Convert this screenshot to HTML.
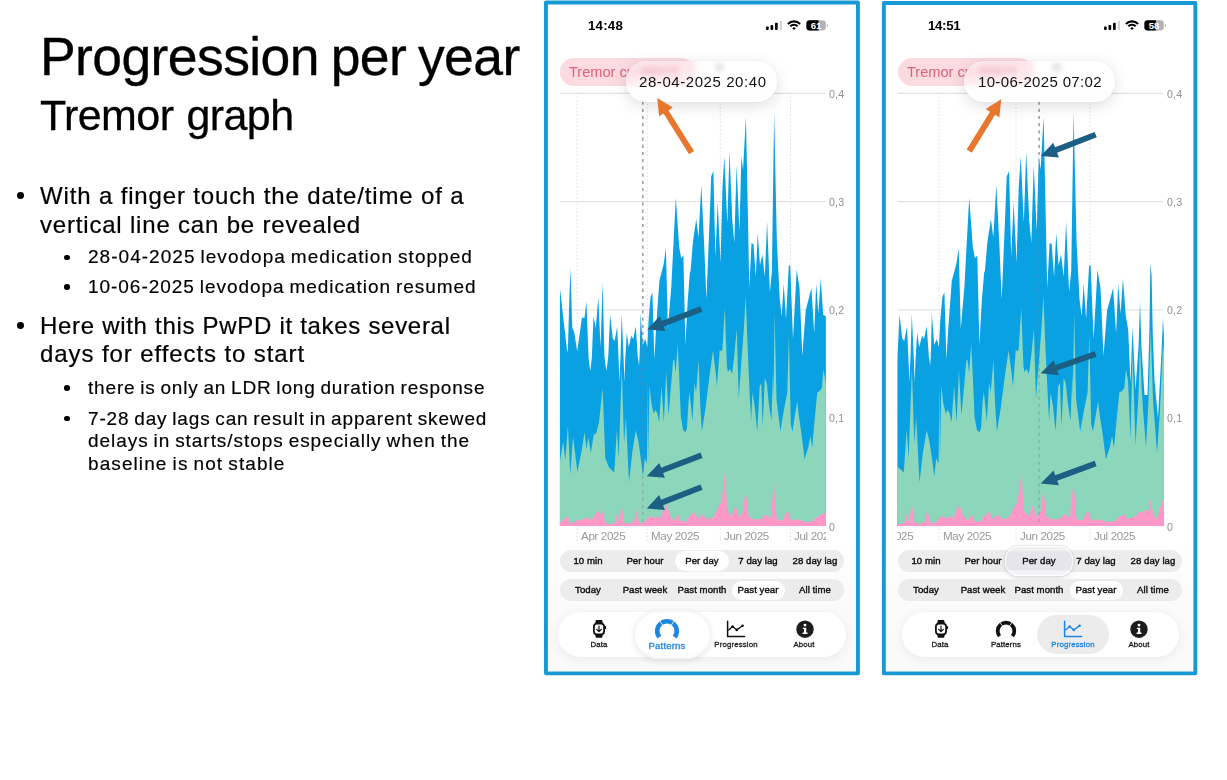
<!DOCTYPE html>
<html lang="en"><head><meta charset="utf-8"><title>Progression per year - Tremor graph</title>
<style>
html,body{margin:0;padding:0;background:#fff;overflow:hidden}
body{width:1227px;height:780px;position:relative;overflow:hidden;font-family:"Liberation Sans", sans-serif}
.t{position:absolute;white-space:nowrap;line-height:1;font-family:"Liberation Sans", sans-serif;will-change:transform}
</style></head><body>
<!-- slide text -->
<div class="t" style="left:40.00px;top:30.11px;font-size:53.5px;letter-spacing:-0.6px;font-weight:400;color:#000;word-spacing:-2.5px;-webkit-text-stroke:0.35px #000;">Progression per year</div>
<div class="t" style="left:40.40px;top:94.00px;font-size:43px;letter-spacing:-0.6px;font-weight:400;color:#000;word-spacing:1.8px;-webkit-text-stroke:0.3px #000;">Tremor graph</div>
<div style="position:absolute;left:17.00px;top:192.40px;width:6.8px;height:6.8px;border-radius:50%;background:#000"></div>
<div class="t" style="left:39.50px;top:183.98px;font-size:24px;letter-spacing:0.85px;font-weight:400;color:#000;-webkit-text-stroke:0.22px #000;">With a finger touch the date/time of a</div>
<div class="t" style="left:39.70px;top:212.78px;font-size:24px;letter-spacing:0.81px;font-weight:400;color:#000;-webkit-text-stroke:0.22px #000;">vertical line can be revealed</div>
<div style="position:absolute;left:64.30px;top:254.50px;width:5.6px;height:5.6px;border-radius:50%;background:#000"></div>
<div class="t" style="left:88.20px;top:247.42px;font-size:19px;letter-spacing:1.03px;font-weight:400;color:#000;word-spacing:-1.3px;-webkit-text-stroke:0.18px #000;">28-04-2025 levodopa medication stopped</div>
<div style="position:absolute;left:64.30px;top:284.40px;width:5.6px;height:5.6px;border-radius:50%;background:#000"></div>
<div class="t" style="left:88.20px;top:277.32px;font-size:19px;letter-spacing:0.96px;font-weight:400;color:#000;word-spacing:-1.3px;-webkit-text-stroke:0.18px #000;">10-06-2025 levodopa medication resumed</div>
<div style="position:absolute;left:17.00px;top:322.00px;width:6.8px;height:6.8px;border-radius:50%;background:#000"></div>
<div class="t" style="left:39.50px;top:313.58px;font-size:24px;letter-spacing:0.7px;font-weight:400;color:#000;-webkit-text-stroke:0.22px #000;">Here with this PwPD it takes several</div>
<div class="t" style="left:39.50px;top:342.38px;font-size:24px;letter-spacing:0.91px;font-weight:400;color:#000;-webkit-text-stroke:0.22px #000;">days for effects to start</div>
<div style="position:absolute;left:64.30px;top:385.20px;width:5.6px;height:5.6px;border-radius:50%;background:#000"></div>
<div class="t" style="left:88.20px;top:378.12px;font-size:19px;letter-spacing:0.83px;font-weight:400;color:#000;word-spacing:-1.3px;-webkit-text-stroke:0.18px #000;">there is only an LDR long duration response</div>
<div style="position:absolute;left:64.30px;top:415.70px;width:5.6px;height:5.6px;border-radius:50%;background:#000"></div>
<div class="t" style="left:88.20px;top:408.62px;font-size:19px;letter-spacing:0.85px;font-weight:400;color:#000;word-spacing:-1.3px;-webkit-text-stroke:0.18px #000;">7-28 day lags can result in apparent skewed</div>
<div class="t" style="left:88.20px;top:431.42px;font-size:19px;letter-spacing:0.95px;font-weight:400;color:#000;word-spacing:-1.3px;-webkit-text-stroke:0.18px #000;">delays in starts/stops especially when the</div>
<div class="t" style="left:88.20px;top:454.32px;font-size:19px;letter-spacing:1.09px;font-weight:400;color:#000;word-spacing:-1.3px;-webkit-text-stroke:0.18px #000;">baseline is not stable</div>
<svg style="position:absolute;left:0;top:0" width="1227" height="780" viewBox="0 0 1227 780"><rect x="545.95" y="2.55" width="312.00" height="670.80" fill="#fff" stroke="#179ad4" stroke-width="3.9" stroke-linejoin="round"/></svg>
<div style="position:absolute;left:548.2px;top:540px;width:307.6px;height:131.4px;background:linear-gradient(#fff,#fbfbfb 40%,#fafafa)"></div>
<div class="t" style="left:588.00px;top:19.04px;font-size:13.3px;letter-spacing:0.2px;font-weight:700;color:#000;">14:48</div>
<svg style="position:absolute;left:766.4px;top:18px" width="66" height="15" viewBox="0 0 66 15"><rect x="0.0" y="8.4" width="2.7" height="3.6" rx="0.9" fill="#000"/><rect x="4.5" y="6.9" width="2.7" height="5.1" rx="0.9" fill="#000"/><rect x="9.0" y="4.7" width="2.7" height="7.3" rx="0.9" fill="#000"/><rect x="13.8" y="2.7" width="2.1" height="9.3" rx="0.9" fill="#cfcfd2"/><g fill="none" stroke="#000" stroke-width="2.1" stroke-linecap="butt"><path d="M21.9,5.9 A8.6,8.6 0 0 1 34.1,5.9"/><path d="M24.3,8.3 A5.2,5.2 0 0 1 31.7,8.3"/></g><path d="M26.2,10.2 A2.5,2.5 0 0 1 29.8,10.2 L28,12 Z" fill="#000"/><rect x="40.4" y="2.2" width="19.4" height="10.4" rx="3.3" fill="#b3b3b5"/><path d="M43.7,2.2 H52.5 V12.6 H43.7 A3.3,3.3 0 0 1 40.4,9.3 V5.5 A3.3,3.3 0 0 1 43.7,2.2 Z" fill="#000"/><path d="M60.7,5.8 Q62.1,6.3 62.1,7.45 Q62.1,8.6 60.7,9.1 Z" fill="#bdbdbf"/><text x="50.0" y="11.0" font-family="Liberation Sans, sans-serif" font-weight="700" font-size="9.6" fill="#fff" text-anchor="middle">61</text></svg>
<div style="position:absolute;left:559.8px;top:58.2px;width:135px;height:27.5px;border-radius:14px;background:#fbdbe0"></div>
<div class="t" style="left:568.90px;top:65.14px;font-size:14.6px;letter-spacing:0px;font-weight:400;color:#e0607a;width:122px;overflow:hidden;">Tremor curves</div>
<div style="position:absolute;left:714.5px;top:62.6px;width:9.5px;height:9.5px;border-radius:50%;background:#9a9a9e;filter:blur(1px)"></div>
<svg style="position:absolute;left:0;top:0" width="1227" height="780" viewBox="0 0 1227 780"><line x1="559.9" y1="93.3" x2="824.9" y2="93.3" stroke="#dcdcdc" stroke-width="1"/><line x1="559.9" y1="201.6" x2="824.9" y2="201.6" stroke="#dcdcdc" stroke-width="1"/><line x1="559.9" y1="309.9" x2="824.9" y2="309.9" stroke="#dcdcdc" stroke-width="1"/><line x1="559.9" y1="418.1" x2="824.9" y2="418.1" stroke="#dcdcdc" stroke-width="1"/><line x1="577" y1="93" x2="577" y2="542" stroke="#d6d6d9" stroke-width="0.8" stroke-dasharray="1.4 2.2"/><line x1="647.3" y1="93" x2="647.3" y2="542" stroke="#d6d6d9" stroke-width="0.8" stroke-dasharray="1.4 2.2"/><line x1="720.3" y1="93" x2="720.3" y2="542" stroke="#d6d6d9" stroke-width="0.8" stroke-dasharray="1.4 2.2"/><line x1="790.5" y1="93" x2="790.5" y2="542" stroke="#d6d6d9" stroke-width="0.8" stroke-dasharray="1.4 2.2"/><path d="M559.9,526.0 L559.9,300.0 L559.9,300.0 L560.1,289.0 L562.7,312.7 L566.9,349.0 L567.8,352.4 L569.0,310.0 L570.4,267.8 L572.3,328.0 L574.2,332.0 L577.2,351.4 L581.9,317.8 L584.5,317.8 L586.4,301.2 L588.6,358.0 L590.3,371.0 L591.8,358.0 L593.5,316.5 L595.8,328.0 L598.3,296.7 L600.5,347.3 L602.7,282.6 L604.4,356.0 L606.4,371.0 L608.3,356.0 L610.1,314.6 L612.7,338.3 L614.6,340.9 L617.2,326.8 L618.5,357.0 L619.4,382.0 L620.5,357.0 L621.7,314.0 L623.6,358.0 L624.4,382.0 L625.3,358.0 L626.8,332.6 L628.7,347.3 L631.3,335.8 L633.2,339.0 L635.8,326.2 L637.7,356.0 L639.1,365.5 L639.8,350.0 L640.6,313.3 L642.8,344.7 L645.4,339.0 L647.3,347.3 L648.6,320.0 L650.5,297.3 L652.4,292.2 L654.4,359.8 L656.0,328.8 L659.4,280.8 L663.7,263.9 L665.9,248.3 L667.9,328.8 L671.3,286.4 L675.8,197.5 L679.2,246.9 L681.2,258.2 L683.4,255.4 L685.4,344.9 L687.7,300.6 L690.0,271.1 L690.5,272.3 L692.8,242.9 L696.2,218.9 L698.5,237.3 L701.3,185.0 L704.1,242.9 L706.4,299.3 L709.8,214.7 L711.2,176.6 L713.4,170.9 L715.4,257.0 L717.7,202.0 L720.5,262.7 L722.5,186.4 L724.4,156.8 L727.3,223.1 L729.5,151.2 L732.3,220.3 L734.3,242.9 L736.6,165.3 L739.4,231.6 L741.4,156.8 L743.1,169.5 L745.9,116.7 L747.9,214.7 L749.3,288.1 L751.5,242.9 L753.5,244.3 L755.8,276.8 L757.7,233.0 L760.0,265.5 L762.3,254.2 L764.8,276.8 L767.1,221.7 L769.9,292.3 L771.9,271.1 L774.1,112.5 L776.9,242.9 L779.8,299.3 L781.7,316.3 L783.7,283.8 L786.0,319.1 L788.8,265.5 L790.2,265.5 L793.0,338.9 L796.7,269.7 L799.5,288.1 L802.3,355.8 L805.7,310.6 L811.4,288.1 L814.2,333.2 L816.2,283.8 L818.4,313.5 L820.7,278.2 L823.2,314.9 L825.8,316.3 L825.9,316.3 L825.9,526.0 Z" fill="#0aa1e3"/><path d="M559.9,526.0 L559.9,461.8 L559.9,461.8 L563.1,442.1 L565.4,460.0 L567.9,425.9 L570.3,474.4 L573.0,436.7 L577.4,471.7 L581.9,449.2 L584.6,432.2 L586.4,449.2 L588.2,437.6 L590.9,452.8 L593.6,434.9 L596.3,433.1 L599.0,422.3 L602.6,388.0 L605.3,458.2 L608.9,467.2 L614.2,472.6 L616.9,429.5 L618.7,458.2 L621.8,368.1 L624.1,443.9 L625.9,416.9 L629.0,482.4 L632.2,452.8 L635.8,430.4 L638.5,442.1 L641.2,461.8 L643.0,476.2 L644.8,458.2 L646.9,463.6 L648.0,380.8 L648.2,462.7 L649.5,385.4 L651.5,403.8 L653.8,413.8 L655.4,410.0 L657.2,413.1 L659.2,422.3 L661.5,385.4 L663.8,422.3 L666.2,370.8 L668.5,415.4 L670.8,388.5 L673.1,360.8 L674.2,359.2 L675.7,373.1 L677.7,343.8 L679.2,376.2 L680.8,416.2 L683.1,430.0 L685.4,432.3 L686.9,428.5 L688.5,402.3 L689.5,391.5 L690.0,396.6 L692.5,421.1 L694.5,383.2 L696.1,392.5 L698.6,359.7 L700.2,404.8 L701.9,431.4 L705.4,408.9 L709.5,376.1 L713.0,350.5 L715.6,372.0 L717.0,386.3 L719.7,349.4 L721.1,351.5 L722.4,349.4 L724.8,307.4 L726.9,365.8 L727.9,372.0 L730.0,368.9 L732.0,374.0 L734.1,357.6 L736.7,328.9 L738.8,398.6 L741.2,363.8 L743.7,331.0 L745.7,295.7 L747.8,351.5 L749.4,388.4 L751.1,421.1 L752.5,392.5 L754.5,404.8 L757.2,431.4 L759.7,386.3 L761.3,383.2 L762.7,427.3 L764.8,378.1 L766.8,383.2 L768.9,404.8 L771.4,421.1 L773.0,372.0 L773.5,396.9 L774.6,311.5 L776.5,399.2 L780.4,431.5 L783.8,410.8 L787.3,392.3 L788.9,334.6 L790.8,424.6 L792.4,431.5 L794.9,415.4 L797.2,401.5 L798.8,415.4 L801.2,431.5 L804.6,459.2 L808.1,447.7 L810.4,436.2 L812.2,447.7 L815.0,415.4 L817.3,392.3 L819.6,391.2 L821.9,387.7 L823.5,369.2 L825.4,380.8 L825.9,383.1 L825.9,383.1 L825.9,526.0 Z" fill="#8cd6bc"/><path d="M559.9,526.0 L559.9,522.8 L559.9,522.8 L563.1,520.1 L567.6,515.7 L570.3,523.7 L574.7,521.9 L578.3,520.1 L583.7,519.2 L588.2,517.4 L590.9,520.1 L593.6,517.4 L598.1,510.3 L600.8,513.9 L602.6,512.1 L605.3,522.8 L608.9,524.3 L614.2,523.7 L616.9,513.9 L618.7,522.8 L621.8,504.0 L624.1,522.8 L630.4,523.7 L634.0,521.0 L636.1,510.3 L639.4,522.8 L643.0,523.7 L646.5,519.2 L650.1,515.7 L653.7,518.3 L657.3,516.5 L660.9,518.3 L662.7,512.1 L666.6,504.9 L669.9,515.7 L674.4,521.0 L678.0,513.9 L680.7,521.0 L686.0,521.9 L688.7,517.4 L690.0,516.2 L694.6,511.5 L697.7,519.2 L702.3,514.6 L706.9,519.2 L713.1,517.7 L719.2,505.4 L721.4,502.3 L724.8,473.1 L727.5,511.5 L731.5,516.2 L735.5,505.4 L739.2,517.7 L742.9,511.5 L745.7,490.0 L748.5,516.2 L753.1,519.2 L760.8,519.2 L765.4,514.6 L770.6,517.7 L774.0,482.3 L776.8,519.2 L782.3,520.8 L787.5,510.0 L790.9,520.8 L797.7,519.2 L806.9,522.3 L813.1,520.8 L817.7,516.2 L822.3,514.6 L825.9,511.5 L825.9,511.5 L825.9,526.0 Z" fill="#fd97c7"/><line x1="642.8" y1="101.5" x2="642.8" y2="344.0" stroke="#7d7d82" stroke-width="1.35" stroke-dasharray="3.2 4" opacity="0.85"/><line x1="642.8" y1="344.0" x2="642.8" y2="526" stroke="#80808a" stroke-width="1.25" stroke-dasharray="3.2 4" stroke-dashoffset="4.90" opacity="0.5"/></svg>
<div class="t" style="left:829.20px;top:88.63px;font-size:10.6px;letter-spacing:0.15px;font-weight:400;color:#909095;">0,4</div>
<div class="t" style="left:829.20px;top:196.93px;font-size:10.6px;letter-spacing:0.15px;font-weight:400;color:#909095;">0,3</div>
<div class="t" style="left:829.20px;top:305.23px;font-size:10.6px;letter-spacing:0.15px;font-weight:400;color:#909095;">0,2</div>
<div class="t" style="left:829.20px;top:413.43px;font-size:10.6px;letter-spacing:0.15px;font-weight:400;color:#909095;">0,1</div>
<div class="t" style="left:829.20px;top:521.63px;font-size:10.6px;letter-spacing:0.15px;font-weight:400;color:#909095;">0</div>
<div style="position:absolute;left:559.9px;top:528px;width:266.0px;height:16px;overflow:hidden">
<div class="t" style="left:20.9px;top:2.48px;font-size:11.6px;color:#98989c;letter-spacing:-0.35px">Apr 2025</div>
<div class="t" style="left:91.0px;top:2.48px;font-size:11.6px;color:#98989c;letter-spacing:-0.35px">May 2025</div>
<div class="t" style="left:164.0px;top:2.48px;font-size:11.6px;color:#98989c;letter-spacing:-0.35px">Jun 2025</div>
<div class="t" style="left:234.3px;top:2.48px;font-size:11.6px;color:#98989c;letter-spacing:-0.35px">Jul 2025</div>
</div>
<div style="position:absolute;left:559.8px;top:549.8px;width:284px;height:22.5px;border-radius:11.5px;background:#ececed"></div>
<div style="position:absolute;left:675.0px;top:551.4px;width:53.5px;height:19.3px;border-radius:10px;background:#fff"></div>
<div class="t" style="left:538.00px;width:100px;text-align:center;top:555.97px;font-size:9.6px;letter-spacing:0.05px;font-weight:400;color:#111;-webkit-text-stroke:0.4px #111;">10 min</div>
<div class="t" style="left:594.80px;width:100px;text-align:center;top:555.97px;font-size:9.6px;letter-spacing:0.05px;font-weight:400;color:#111;-webkit-text-stroke:0.4px #111;">Per hour</div>
<div class="t" style="left:651.60px;width:100px;text-align:center;top:555.97px;font-size:9.6px;letter-spacing:0.05px;font-weight:400;color:#111;-webkit-text-stroke:0.4px #111;">Per day</div>
<div class="t" style="left:708.40px;width:100px;text-align:center;top:555.97px;font-size:9.6px;letter-spacing:0.05px;font-weight:400;color:#111;-webkit-text-stroke:0.4px #111;">7 day lag</div>
<div class="t" style="left:765.20px;width:100px;text-align:center;top:555.97px;font-size:9.6px;letter-spacing:0.05px;font-weight:400;color:#111;-webkit-text-stroke:0.4px #111;">28 day lag</div>
<div style="position:absolute;left:559.8px;top:578.9px;width:284px;height:22.5px;border-radius:11.5px;background:#ececed"></div>
<div style="position:absolute;left:731.8px;top:580.5px;width:53.5px;height:19.3px;border-radius:10px;background:#fff"></div>
<div class="t" style="left:538.00px;width:100px;text-align:center;top:585.07px;font-size:9.6px;letter-spacing:0.05px;font-weight:400;color:#111;-webkit-text-stroke:0.4px #111;">Today</div>
<div class="t" style="left:594.80px;width:100px;text-align:center;top:585.07px;font-size:9.6px;letter-spacing:0.05px;font-weight:400;color:#111;-webkit-text-stroke:0.4px #111;">Past week</div>
<div class="t" style="left:651.60px;width:100px;text-align:center;top:585.07px;font-size:9.6px;letter-spacing:0.05px;font-weight:400;color:#111;-webkit-text-stroke:0.4px #111;">Past month</div>
<div class="t" style="left:708.40px;width:100px;text-align:center;top:585.07px;font-size:9.6px;letter-spacing:0.05px;font-weight:400;color:#111;-webkit-text-stroke:0.4px #111;">Past year</div>
<div class="t" style="left:765.20px;width:100px;text-align:center;top:585.07px;font-size:9.6px;letter-spacing:0.05px;font-weight:400;color:#111;-webkit-text-stroke:0.4px #111;">All time</div>
<div style="position:absolute;left:558.0px;top:612.2px;width:288.0px;height:45px;border-radius:22.5px;background:#fff;box-shadow:0 2px 12px rgba(0,0,0,.07),0 0 2px rgba(0,0,0,.03)"></div>
<div style="position:absolute;left:634px;top:609.5px;width:76.8px;height:49.2px;border-radius:24.6px;background:#fff;box-shadow:0 2px 6px rgba(0,0,0,.09),inset 0 2px 2.5px rgba(0,0,0,.05),inset 0 -2px 2.5px rgba(0,0,0,.045)"></div>
<svg style="position:absolute;left:588.9px;top:618px" width="20" height="22" viewBox="0 0 20 22"><path d="M6.1,5.4 L6.9,2.1 H13.1 L13.9,5.4 Z M6.1,16.5 L6.9,19.8 H13.1 L13.9,16.5 Z" fill="#111"/><rect x="4.9" y="5.6" width="10.2" height="10.7" rx="3.1" fill="#fff" stroke="#111" stroke-width="1.8"/><path d="M16.4,8.6 V10.6" stroke="#111" stroke-width="1.3" stroke-linecap="round"/><path d="M10,8.2 V13.5 M7.7,11.3 L10,13.7 L12.3,11.3" fill="none" stroke="#111" stroke-width="1.2" stroke-linecap="round" stroke-linejoin="round"/></svg>
<svg style="position:absolute;left:653.4px;top:617.5px" width="28" height="26" viewBox="0 0 28 26"><path d="M6.42,19.14 A9.75,9.75 0 1 1 21.58,19.14" fill="none" stroke="#1f86e0" stroke-width="4.6" stroke-linecap="butt"/><path d="M9.9,7.3 L6.6,2.8 M18.1,7.3 L21.4,2.8" stroke="#fff" stroke-width="0.9"/></svg>
<svg style="position:absolute;left:725.2px;top:619px" width="22" height="20" viewBox="0 0 22 20"><path d="M2.6,2.2 V17.4 H19.6" fill="none" stroke="#111" stroke-width="1.5" stroke-linecap="round" stroke-linejoin="round"/><path d="M3.4,11.3 L7.6,7.6 L11.8,10.9 L17.6,6.8" fill="none" stroke="#111" stroke-width="1.3" stroke-linejoin="round"/><circle cx="7.6" cy="7.6" r="1.3" fill="#111"/><circle cx="11.8" cy="10.9" r="1.3" fill="#111"/><circle cx="17.6" cy="6.8" r="1.3" fill="#111"/></svg>
<svg style="position:absolute;left:795.1px;top:619px" width="20" height="20" viewBox="0 0 20 20"><circle cx="10" cy="10.2" r="8.7" fill="#1c1c1e"/><circle cx="10" cy="6.1" r="1.45" fill="#fff"/><path d="M7.9,8.7 H11.2 V13.6 H12.5 V14.9 H7.6 V13.6 H9.0 V10.0 H7.9 Z" fill="#fff"/></svg>
<div class="t" style="left:548.50px;width:100px;text-align:center;top:641.10px;font-size:7.8px;letter-spacing:0.15px;font-weight:400;color:#1a1a1a;-webkit-text-stroke:0.3px #1a1a1a;">Data</div>
<div class="t" style="left:617.30px;width:100px;text-align:center;top:641.17px;font-size:9.6px;letter-spacing:0.15px;font-weight:400;color:#1f86e0;-webkit-text-stroke:0.3px #1f86e0;">Patterns</div>
<div class="t" style="left:686.20px;width:100px;text-align:center;top:641.10px;font-size:7.8px;letter-spacing:0.15px;font-weight:400;color:#1a1a1a;-webkit-text-stroke:0.3px #1a1a1a;">Progression</div>
<div class="t" style="left:754.40px;width:100px;text-align:center;top:641.10px;font-size:7.8px;letter-spacing:0.15px;font-weight:400;color:#1a1a1a;-webkit-text-stroke:0.3px #1a1a1a;">About</div>
<div style="position:absolute;left:625.8px;top:61.3px;width:151.4px;height:40.3px;border-radius:20.2px;background:rgba(255,255,255,.72);-webkit-backdrop-filter:blur(2.4px);backdrop-filter:blur(2.4px);box-shadow:0 4px 16px rgba(0,0,0,.13),0 0 3px rgba(0,0,0,.05);overflow:hidden"><div style="position:absolute;left:-4px;top:-3px;width:74px;height:28px;background:linear-gradient(rgba(250,200,209,.38),rgba(250,200,209,.16));filter:blur(2.5px)"></div><div style="position:absolute;left:15px;top:4.5px;width:38px;height:8px;background:rgba(236,140,158,.24);filter:blur(2.2px)"></div></div>
<div class="t" style="left:638.60px;top:74.20px;font-size:15px;letter-spacing:0.57px;font-weight:400;color:#111;">28-04-2025 20:40</div>
<svg style="position:absolute;left:0;top:0" width="1227" height="780" viewBox="0 0 1227 780"><polygon points="694.1,151.0 668.5,110.4 672.8,107.6 657.2,98.0 659.1,116.3 663.5,113.6 689.1,154.2" fill="#e8772e"/><polygon points="700.4,306.3 661.5,321.0 659.7,316.3 647.1,329.5 665.3,331.1 663.6,326.4 702.4,311.7" fill="#1b5f84"/><polygon points="700.5,452.5 661.1,467.7 659.3,463.0 646.7,476.3 664.9,477.7 663.1,473.1 702.5,457.9" fill="#1b5f84"/><polygon points="700.4,484.4 661.0,499.8 659.2,495.1 646.7,508.5 664.9,509.9 663.1,505.2 702.6,489.8" fill="#1b5f84"/></svg>
<svg style="position:absolute;left:0;top:0" width="1227" height="780" viewBox="0 0 1227 780"><rect x="883.85" y="2.95" width="311.50" height="670.40" fill="#fff" stroke="#179ad4" stroke-width="3.9" stroke-linejoin="round"/></svg>
<div style="position:absolute;left:885.9px;top:540px;width:307.6px;height:131.4px;background:linear-gradient(#fff,#fbfbfb 40%,#fafafa)"></div>
<div class="t" style="left:927.80px;top:19.04px;font-size:13.3px;letter-spacing:-0.35px;font-weight:700;color:#000;">14:51</div>
<svg style="position:absolute;left:1104.1px;top:18px" width="66" height="15" viewBox="0 0 66 15"><rect x="0.0" y="8.4" width="2.7" height="3.6" rx="0.9" fill="#000"/><rect x="4.5" y="6.9" width="2.7" height="5.1" rx="0.9" fill="#000"/><rect x="9.0" y="4.7" width="2.7" height="7.3" rx="0.9" fill="#000"/><rect x="13.8" y="2.7" width="2.1" height="9.3" rx="0.9" fill="#cfcfd2"/><g fill="none" stroke="#000" stroke-width="2.1" stroke-linecap="butt"><path d="M21.9,5.9 A8.6,8.6 0 0 1 34.1,5.9"/><path d="M24.3,8.3 A5.2,5.2 0 0 1 31.7,8.3"/></g><path d="M26.2,10.2 A2.5,2.5 0 0 1 29.8,10.2 L28,12 Z" fill="#000"/><rect x="40.4" y="2.2" width="19.4" height="10.4" rx="3.3" fill="#b3b3b5"/><path d="M43.7,2.2 H51.8 V12.6 H43.7 A3.3,3.3 0 0 1 40.4,9.3 V5.5 A3.3,3.3 0 0 1 43.7,2.2 Z" fill="#000"/><path d="M60.7,5.8 Q62.1,6.3 62.1,7.45 Q62.1,8.6 60.7,9.1 Z" fill="#bdbdbf"/><text x="50.0" y="11.0" font-family="Liberation Sans, sans-serif" font-weight="700" font-size="9.6" fill="#fff" text-anchor="middle">58</text></svg>
<div style="position:absolute;left:897.5px;top:58.2px;width:135px;height:27.5px;border-radius:14px;background:#fbdbe0"></div>
<div class="t" style="left:906.60px;top:65.14px;font-size:14.6px;letter-spacing:0px;font-weight:400;color:#e0607a;width:122px;overflow:hidden;">Tremor curves</div>
<div style="position:absolute;left:1052.2px;top:62.6px;width:9.5px;height:9.5px;border-radius:50%;background:#9a9a9e;filter:blur(1px)"></div>
<svg style="position:absolute;left:0;top:0" width="1227" height="780" viewBox="0 0 1227 780"><line x1="897.4" y1="93.3" x2="1162.9" y2="93.3" stroke="#dcdcdc" stroke-width="1"/><line x1="897.4" y1="201.6" x2="1162.9" y2="201.6" stroke="#dcdcdc" stroke-width="1"/><line x1="897.4" y1="309.9" x2="1162.9" y2="309.9" stroke="#dcdcdc" stroke-width="1"/><line x1="897.4" y1="418.1" x2="1162.9" y2="418.1" stroke="#dcdcdc" stroke-width="1"/><line x1="939" y1="93" x2="939" y2="542" stroke="#d6d6d9" stroke-width="0.8" stroke-dasharray="1.4 2.2"/><line x1="1016" y1="93" x2="1016" y2="542" stroke="#d6d6d9" stroke-width="0.8" stroke-dasharray="1.4 2.2"/><line x1="1090" y1="93" x2="1090" y2="542" stroke="#d6d6d9" stroke-width="0.8" stroke-dasharray="1.4 2.2"/><path d="M897.4,526.0 L897.4,371.0 L897.4,371.0 L897.5,356.0 L899.5,314.6 L902.2,338.3 L904.2,340.9 L907.0,326.8 L908.4,357.0 L909.3,382.0 L910.5,357.0 L911.8,314.0 L913.8,358.0 L914.6,382.0 L915.6,358.0 L917.2,332.6 L919.2,347.3 L922.0,335.8 L924.0,339.0 L926.7,326.2 L928.8,356.0 L930.2,365.5 L931.0,350.0 L931.8,313.3 L934.2,344.7 L936.9,339.0 L938.9,347.3 L940.3,320.0 L942.3,297.3 L944.4,292.2 L946.4,359.8 L948.2,328.8 L951.8,280.8 L956.3,263.9 L958.7,248.3 L960.8,328.8 L964.4,286.4 L969.2,197.5 L972.8,246.9 L974.9,258.2 L977.3,255.4 L979.4,344.9 L981.8,300.6 L984.3,271.1 L984.8,272.3 L987.3,242.9 L990.9,218.9 L993.3,237.3 L996.3,185.0 L999.3,242.9 L1001.7,299.3 L1005.2,214.7 L1006.7,176.6 L1009.1,170.9 L1011.2,257.0 L1013.6,202.0 L1016.6,262.7 L1018.7,186.4 L1020.8,156.8 L1023.8,223.1 L1026.2,151.2 L1029.2,220.3 L1031.3,242.9 L1033.7,165.3 L1036.7,231.6 L1038.8,156.8 L1040.6,169.5 L1043.6,116.7 L1045.7,214.7 L1047.2,288.1 L1049.6,242.9 L1051.7,244.3 L1054.1,276.8 L1056.2,233.0 L1058.6,265.5 L1061.0,254.2 L1063.7,276.8 L1066.1,221.7 L1069.1,292.3 L1071.2,271.1 L1073.6,112.5 L1076.6,242.9 L1079.5,299.3 L1081.6,316.3 L1083.7,283.8 L1086.1,319.1 L1089.1,265.5 L1090.6,265.5 L1093.6,338.9 L1097.5,269.7 L1100.5,288.1 L1103.5,355.8 L1107.1,310.6 L1113.1,288.1 L1116.1,333.2 L1118.2,283.8 L1120.6,313.5 L1123.0,278.2 L1125.7,314.9 L1128.2,330.0 L1130.5,383.0 L1132.5,326.8 L1135.5,390.0 L1138.6,345.0 L1140.0,301.2 L1141.4,345.0 L1144.5,395.0 L1147.5,395.0 L1149.4,330.0 L1150.4,263.3 L1151.6,275.0 L1152.8,335.0 L1154.5,380.0 L1158.0,418.0 L1161.6,350.0 L1163.0,317.8 L1163.9,335.0 L1163.9,335.0 L1163.9,526.0 Z" fill="#0aa1e3"/><path d="M897.4,526.0 L897.4,467.2 L898.1,467.2 L903.8,472.6 L906.7,429.5 L908.6,458.2 L911.9,368.1 L914.3,443.9 L916.2,416.9 L919.5,482.4 L922.9,452.8 L926.7,430.4 L929.6,442.1 L932.4,461.8 L934.3,476.2 L936.2,458.2 L938.5,463.6 L939.7,380.8 L939.9,462.7 L941.3,385.4 L943.4,403.8 L945.9,413.8 L947.5,410.0 L949.5,413.1 L951.6,422.3 L954.1,385.4 L956.5,422.3 L959.0,370.8 L961.4,415.4 L963.9,388.5 L966.3,360.8 L967.5,359.2 L969.1,373.1 L971.2,343.8 L972.8,376.2 L974.5,416.2 L976.9,430.0 L979.4,432.3 L981.0,428.5 L982.6,402.3 L983.8,391.5 L984.3,396.6 L986.9,421.1 L989.1,383.2 L990.8,392.5 L993.4,359.7 L995.1,404.8 L996.9,431.4 L1000.6,408.9 L1004.9,376.1 L1008.6,350.5 L1011.5,372.0 L1013.0,386.3 L1015.8,349.4 L1017.3,351.5 L1018.6,349.4 L1021.3,307.4 L1023.4,365.8 L1024.5,372.0 L1026.7,368.9 L1028.9,374.0 L1031.0,357.6 L1033.9,328.9 L1036.0,398.6 L1038.7,363.8 L1041.3,331.0 L1043.4,295.7 L1045.6,351.5 L1047.4,388.4 L1049.1,421.1 L1050.6,392.5 L1052.8,404.8 L1055.6,431.4 L1058.2,386.3 L1060.0,383.2 L1061.5,427.3 L1063.7,378.1 L1065.8,383.2 L1068.0,404.8 L1070.6,421.1 L1072.4,372.0 L1072.9,396.9 L1074.1,311.5 L1076.1,399.2 L1080.2,431.5 L1083.9,410.8 L1087.6,392.3 L1089.3,334.6 L1091.2,424.6 L1093.0,431.5 L1095.7,415.4 L1098.1,401.5 L1099.8,415.4 L1102.3,431.5 L1105.9,459.2 L1109.6,447.7 L1112.1,436.2 L1114.0,447.7 L1117.0,415.4 L1119.4,392.3 L1121.9,391.2 L1124.3,387.7 L1126.0,369.2 L1128.0,380.8 L1128.2,384.0 L1130.5,440.0 L1132.5,352.0 L1135.5,445.0 L1138.5,395.0 L1140.0,342.0 L1141.5,385.0 L1143.0,410.0 L1146.0,447.0 L1148.5,400.0 L1150.7,329.0 L1153.0,400.0 L1157.0,453.0 L1160.0,410.0 L1163.0,345.0 L1163.9,352.0 L1163.9,352.0 L1163.9,526.0 Z" fill="#8cd6bc"/><path d="M897.4,526.0 L897.4,524.3 L898.1,524.3 L903.8,523.7 L906.7,513.9 L908.6,522.8 L911.9,504.0 L914.3,522.8 L921.0,523.7 L924.8,521.0 L927.1,510.3 L930.5,522.8 L934.3,523.7 L938.1,519.2 L942.0,515.7 L945.8,518.3 L949.6,516.5 L953.4,518.3 L955.3,512.1 L959.5,504.9 L962.9,515.7 L967.7,521.0 L971.5,513.9 L974.3,521.0 L980.1,521.9 L982.9,517.4 L984.3,516.2 L989.2,511.5 L992.4,519.2 L997.3,514.6 L1002.2,519.2 L1008.8,517.7 L1015.3,505.4 L1017.6,502.3 L1021.2,473.1 L1024.1,511.5 L1028.4,516.2 L1032.6,505.4 L1036.5,517.7 L1040.5,511.5 L1043.4,490.0 L1046.3,516.2 L1051.2,519.2 L1059.4,519.2 L1064.3,514.6 L1069.8,517.7 L1073.4,482.3 L1076.4,519.2 L1082.3,520.8 L1087.8,510.0 L1091.4,520.8 L1098.6,519.2 L1108.4,522.3 L1114.9,520.8 L1119.8,516.2 L1124.7,514.6 L1127.8,519.2 L1131.5,517.7 L1136.2,516.2 L1139.2,511.5 L1142.3,513.1 L1145.4,510.0 L1148.5,511.5 L1150.6,499.2 L1153.1,514.6 L1156.2,519.2 L1159.2,511.5 L1162.3,500.8 L1163.9,499.2 L1163.9,499.2 L1163.9,526.0 Z" fill="#fd97c7"/><line x1="1039.1" y1="101.5" x2="1039.1" y2="158.0" stroke="#7d7d82" stroke-width="1.35" stroke-dasharray="3.2 4" opacity="0.85"/><line x1="1039.1" y1="158.0" x2="1039.1" y2="526" stroke="#80808a" stroke-width="1.25" stroke-dasharray="3.2 4" stroke-dashoffset="6.10" opacity="0.5"/></svg>
<div class="t" style="left:1166.90px;top:88.63px;font-size:10.6px;letter-spacing:0.15px;font-weight:400;color:#909095;">0,4</div>
<div class="t" style="left:1166.90px;top:196.93px;font-size:10.6px;letter-spacing:0.15px;font-weight:400;color:#909095;">0,3</div>
<div class="t" style="left:1166.90px;top:305.23px;font-size:10.6px;letter-spacing:0.15px;font-weight:400;color:#909095;">0,2</div>
<div class="t" style="left:1166.90px;top:413.43px;font-size:10.6px;letter-spacing:0.15px;font-weight:400;color:#909095;">0,1</div>
<div class="t" style="left:1166.90px;top:521.63px;font-size:10.6px;letter-spacing:0.15px;font-weight:400;color:#909095;">0</div>
<div style="position:absolute;left:897.4px;top:528px;width:266.5px;height:16px;overflow:hidden">
<div class="t" style="left:-28.8px;top:2.48px;font-size:11.6px;color:#98989c;letter-spacing:-0.35px">Apr 2025</div>
<div class="t" style="left:45.4px;top:2.48px;font-size:11.6px;color:#98989c;letter-spacing:-0.35px">May 2025</div>
<div class="t" style="left:122.2px;top:2.48px;font-size:11.6px;color:#98989c;letter-spacing:-0.35px">Jun 2025</div>
<div class="t" style="left:196.4px;top:2.48px;font-size:11.6px;color:#98989c;letter-spacing:-0.35px">Jul 2025</div>
</div>
<div style="position:absolute;left:897.5px;top:549.8px;width:284px;height:22.5px;border-radius:11.5px;background:#ececed"></div>
<div style="position:absolute;left:1004.7px;top:546px;width:68.8px;height:30.4px;border-radius:13.5px;background:linear-gradient(#f1f1f3 0,#f1f1f3 15%,#e6e6ea 19%,#e6e6ea 79%,#f4f4f6 83%);box-shadow:0 0 0 1px rgba(255,255,255,.9) inset,0 0 0 1.2px rgba(200,200,200,.35),0 2px 5px rgba(0,0,0,.11)"></div>
<div class="t" style="left:875.70px;width:100px;text-align:center;top:555.97px;font-size:9.6px;letter-spacing:0.05px;font-weight:400;color:#111;-webkit-text-stroke:0.4px #111;">10 min</div>
<div class="t" style="left:932.50px;width:100px;text-align:center;top:555.97px;font-size:9.6px;letter-spacing:0.05px;font-weight:400;color:#111;-webkit-text-stroke:0.4px #111;">Per hour</div>
<div class="t" style="left:989.30px;width:100px;text-align:center;top:555.97px;font-size:9.6px;letter-spacing:0.05px;font-weight:400;color:#111;-webkit-text-stroke:0.4px #111;">Per day</div>
<div class="t" style="left:1046.10px;width:100px;text-align:center;top:555.97px;font-size:9.6px;letter-spacing:0.05px;font-weight:400;color:#111;-webkit-text-stroke:0.4px #111;">7 day lag</div>
<div class="t" style="left:1102.90px;width:100px;text-align:center;top:555.97px;font-size:9.6px;letter-spacing:0.05px;font-weight:400;color:#111;-webkit-text-stroke:0.4px #111;">28 day lag</div>
<div style="position:absolute;left:897.5px;top:578.9px;width:284px;height:22.5px;border-radius:11.5px;background:#ececed"></div>
<div style="position:absolute;left:1069.5px;top:580.5px;width:53.5px;height:19.3px;border-radius:10px;background:#fff"></div>
<div class="t" style="left:875.70px;width:100px;text-align:center;top:585.07px;font-size:9.6px;letter-spacing:0.05px;font-weight:400;color:#111;-webkit-text-stroke:0.4px #111;">Today</div>
<div class="t" style="left:932.50px;width:100px;text-align:center;top:585.07px;font-size:9.6px;letter-spacing:0.05px;font-weight:400;color:#111;-webkit-text-stroke:0.4px #111;">Past week</div>
<div class="t" style="left:989.30px;width:100px;text-align:center;top:585.07px;font-size:9.6px;letter-spacing:0.05px;font-weight:400;color:#111;-webkit-text-stroke:0.4px #111;">Past month</div>
<div class="t" style="left:1046.10px;width:100px;text-align:center;top:585.07px;font-size:9.6px;letter-spacing:0.05px;font-weight:400;color:#111;-webkit-text-stroke:0.4px #111;">Past year</div>
<div class="t" style="left:1102.90px;width:100px;text-align:center;top:585.07px;font-size:9.6px;letter-spacing:0.05px;font-weight:400;color:#111;-webkit-text-stroke:0.4px #111;">All time</div>
<div style="position:absolute;left:901.7px;top:612.2px;width:277.3px;height:45px;border-radius:22.5px;background:#fff;box-shadow:0 2px 12px rgba(0,0,0,.07),0 0 2px rgba(0,0,0,.03)"></div>
<div style="position:absolute;left:1036.6px;top:614.9px;width:72.8px;height:39.2px;border-radius:19.6px;background:#ececed"></div>
<svg style="position:absolute;left:930.7px;top:618px" width="20" height="22" viewBox="0 0 20 22"><path d="M6.1,5.4 L6.9,2.1 H13.1 L13.9,5.4 Z M6.1,16.5 L6.9,19.8 H13.1 L13.9,16.5 Z" fill="#111"/><rect x="4.9" y="5.6" width="10.2" height="10.7" rx="3.1" fill="#fff" stroke="#111" stroke-width="1.8"/><path d="M16.4,8.6 V10.6" stroke="#111" stroke-width="1.3" stroke-linecap="round"/><path d="M10,8.2 V13.5 M7.7,11.3 L10,13.7 L12.3,11.3" fill="none" stroke="#111" stroke-width="1.2" stroke-linecap="round" stroke-linejoin="round"/></svg>
<svg style="position:absolute;left:994.3px;top:619px" width="24" height="22" viewBox="0 0 24 22"><path d="M5.55,17.1 A8.3,8.3 0 1 1 18.45,17.1" fill="none" stroke="#111" stroke-width="3.8" stroke-linecap="butt"/><path d="M8.5,6.9 L5.8,3.2 M15.5,6.9 L18.2,3.2" stroke="#fff" stroke-width="0.8"/></svg>
<svg style="position:absolute;left:1062.0px;top:619px" width="22" height="20" viewBox="0 0 22 20"><path d="M2.6,2.2 V17.4 H19.6" fill="none" stroke="#1f86e0" stroke-width="1.5" stroke-linecap="round" stroke-linejoin="round"/><path d="M3.4,11.3 L7.6,7.6 L11.8,10.9 L17.6,6.8" fill="none" stroke="#1f86e0" stroke-width="1.3" stroke-linejoin="round"/><circle cx="7.6" cy="7.6" r="1.3" fill="#1f86e0"/><circle cx="11.8" cy="10.9" r="1.3" fill="#1f86e0"/><circle cx="17.6" cy="6.8" r="1.3" fill="#1f86e0"/></svg>
<svg style="position:absolute;left:1129.3px;top:619px" width="20" height="20" viewBox="0 0 20 20"><circle cx="10" cy="10.2" r="8.7" fill="#1c1c1e"/><circle cx="10" cy="6.1" r="1.45" fill="#fff"/><path d="M7.9,8.7 H11.2 V13.6 H12.5 V14.9 H7.6 V13.6 H9.0 V10.0 H7.9 Z" fill="#fff"/></svg>
<div class="t" style="left:890.30px;width:100px;text-align:center;top:641.10px;font-size:7.8px;letter-spacing:0.15px;font-weight:400;color:#1a1a1a;-webkit-text-stroke:0.3px #1a1a1a;">Data</div>
<div class="t" style="left:956.30px;width:100px;text-align:center;top:641.10px;font-size:7.8px;letter-spacing:0.15px;font-weight:400;color:#1a1a1a;-webkit-text-stroke:0.3px #1a1a1a;">Patterns</div>
<div class="t" style="left:1023.00px;width:100px;text-align:center;top:641.10px;font-size:7.8px;letter-spacing:0.15px;font-weight:400;color:#1f86e0;-webkit-text-stroke:0.3px #1f86e0;">Progression</div>
<div class="t" style="left:1088.60px;width:100px;text-align:center;top:641.10px;font-size:7.8px;letter-spacing:0.15px;font-weight:400;color:#1a1a1a;-webkit-text-stroke:0.3px #1a1a1a;">About</div>
<div style="position:absolute;left:963.5px;top:61.3px;width:151.4px;height:40.3px;border-radius:20.2px;background:rgba(255,255,255,.72);-webkit-backdrop-filter:blur(2.4px);backdrop-filter:blur(2.4px);box-shadow:0 4px 16px rgba(0,0,0,.13),0 0 3px rgba(0,0,0,.05);overflow:hidden"><div style="position:absolute;left:-4px;top:-3px;width:74px;height:28px;background:linear-gradient(rgba(250,200,209,.38),rgba(250,200,209,.16));filter:blur(2.5px)"></div><div style="position:absolute;left:15px;top:4.5px;width:38px;height:8px;background:rgba(236,140,158,.24);filter:blur(2.2px)"></div></div>
<div class="t" style="left:978.20px;top:74.20px;font-size:15px;letter-spacing:0.34px;font-weight:400;color:#111;">10-06-2025 07:02</div>
<svg style="position:absolute;left:0;top:0" width="1227" height="780" viewBox="0 0 1227 780"><polygon points="971.8,152.7 995.1,114.8 999.4,117.5 1001.2,99.2 985.6,109.0 990.0,111.7 966.6,149.5" fill="#e8772e"/><polygon points="1094.6,131.9 1055.0,147.3 1053.2,142.7 1040.7,156.0 1058.9,157.4 1057.1,152.7 1096.8,137.3" fill="#1b5f84"/><polygon points="1094.6,351.3 1055.3,365.0 1053.7,360.3 1040.7,373.2 1058.9,375.2 1057.2,370.5 1096.6,356.7" fill="#1b5f84"/><polygon points="1094.6,460.8 1055.2,475.2 1053.5,470.5 1040.7,483.6 1058.9,485.3 1057.2,480.7 1096.6,466.2" fill="#1b5f84"/></svg>
</body></html>
